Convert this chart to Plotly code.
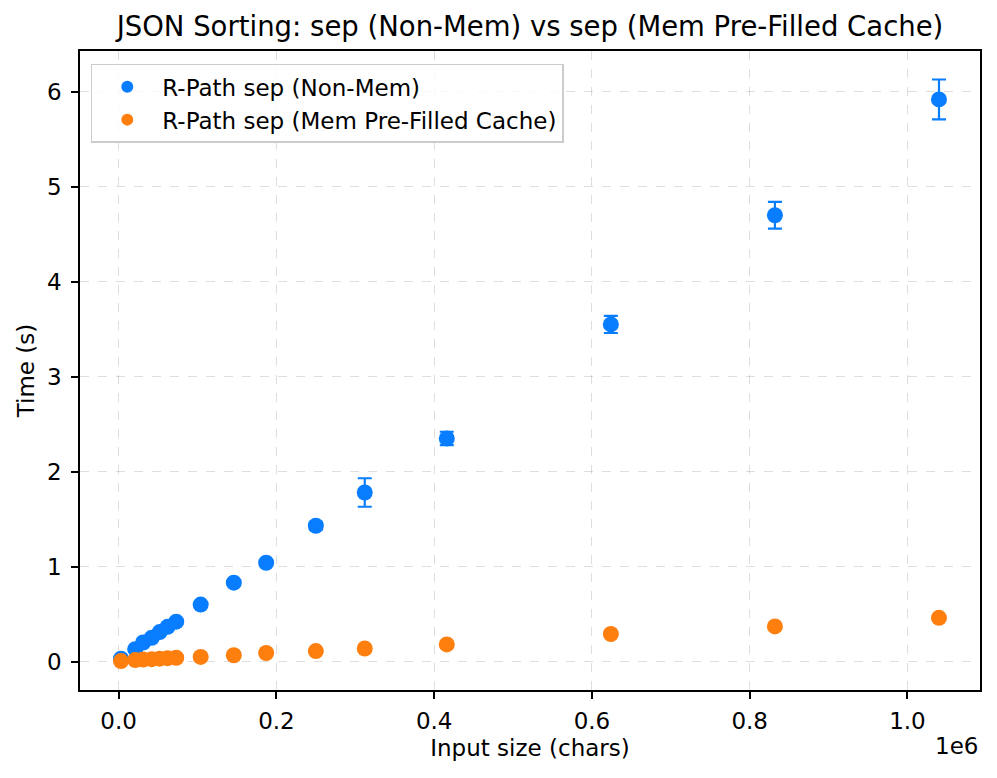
import plotly.graph_objects as go

sizes = [3000, 21000, 31000, 42000, 52000, 62000, 73000, 104000, 146000, 187000,
         250000, 312000, 416000, 624000, 832000, 1040000]
nonmem_mean = [0.03, 0.13, 0.20, 0.25, 0.31, 0.365, 0.42, 0.60, 0.83, 1.04,
               1.43, 1.78, 2.35, 3.55, 4.70, 5.92]
nonmem_err = [0.005, 0.01, 0.01, 0.01, 0.01, 0.01, 0.01, 0.015, 0.02, 0.02,
              0.04, 0.15, 0.07, 0.09, 0.14, 0.21]
mem_mean = [0.005, 0.015, 0.02, 0.025, 0.03, 0.035, 0.04, 0.048, 0.066, 0.09,
            0.11, 0.137, 0.18, 0.29, 0.37, 0.46]
mem_err = [0.001, 0.002, 0.002, 0.002, 0.002, 0.002, 0.002, 0.003, 0.003, 0.004,
           0.004, 0.005, 0.006, 0.008, 0.01, 0.012]

blue = "#087dff"
orange = "#ff7f0e"
font = "DejaVu Sans"

fig = go.Figure()
fig.add_trace(go.Scatter(
    x=sizes, y=nonmem_mean, mode="markers", name="R-Path sep (Non-Mem)",
    marker=dict(color=blue, size=16),
    error_y=dict(type="data", array=nonmem_err, color=blue, thickness=2.2, width=7),
))
fig.add_trace(go.Scatter(
    x=sizes, y=mem_mean, mode="markers", name="R-Path sep (Mem Pre-Filled Cache)",
    marker=dict(color=orange, size=16),
    error_y=dict(type="data", array=mem_err, color=orange, thickness=2.2, width=7),
))

axis_common = dict(
    showline=True, linecolor="black", linewidth=1.7, mirror=True,
    ticks="outside", ticklen=7, tickwidth=1.7, tickcolor="black",
    showgrid=True, gridcolor="rgba(0,0,0,0.13)", griddash="dash", gridwidth=1.4,
    zeroline=False, tickfont=dict(family=font, size=23, color="black"),
)

fig.update_layout(
    width=997, height=778,
    margin=dict(l=72, r=25, t=43, b=96),
    paper_bgcolor="white", plot_bgcolor="white",
    title=dict(text="JSON Sorting: sep (Non-Mem) vs sep (Mem Pre-Filled Cache)",
               x=0.5, xref="paper", xanchor="center", y=0.977, yanchor="middle",
               font=dict(family=font, size=27.5, color="black")),
    xaxis=dict(axis_common, range=[-49000, 1092000],
               tickvals=[0, 200000, 400000, 600000, 800000, 1000000],
               ticktext=["0.0", "0.2", "0.4", "0.6", "0.8", "1.0"],
               ticklabelstandoff=3,
               title=dict(text="Input size (chars)", font=dict(family=font, size=23, color="black"),
                          standoff=6)),
    yaxis=dict(axis_common, range=[-0.30, 6.43],
               tickvals=[0, 1, 2, 3, 4, 5, 6],
               ticklabelstandoff=5,
               title=dict(text="Time (s)", font=dict(family=font, size=23, color="black"),
                          standoff=6)),
    legend=dict(x=0.012, y=0.98, xanchor="left", yanchor="top",
                bgcolor="rgba(255,255,255,0.8)", bordercolor="#cccccc", borderwidth=1.5,
                font=dict(family=font, size=23, color="black"),
                itemsizing="constant", itemwidth=60),
    showlegend=True,
)

fig.add_annotation(text="1e6", xref="paper", yref="paper", x=1.0, y=-0.087,
                   xanchor="right", yanchor="middle", showarrow=False,
                   font=dict(family=font, size=23, color="black"))

fig.write_html("out.html")
